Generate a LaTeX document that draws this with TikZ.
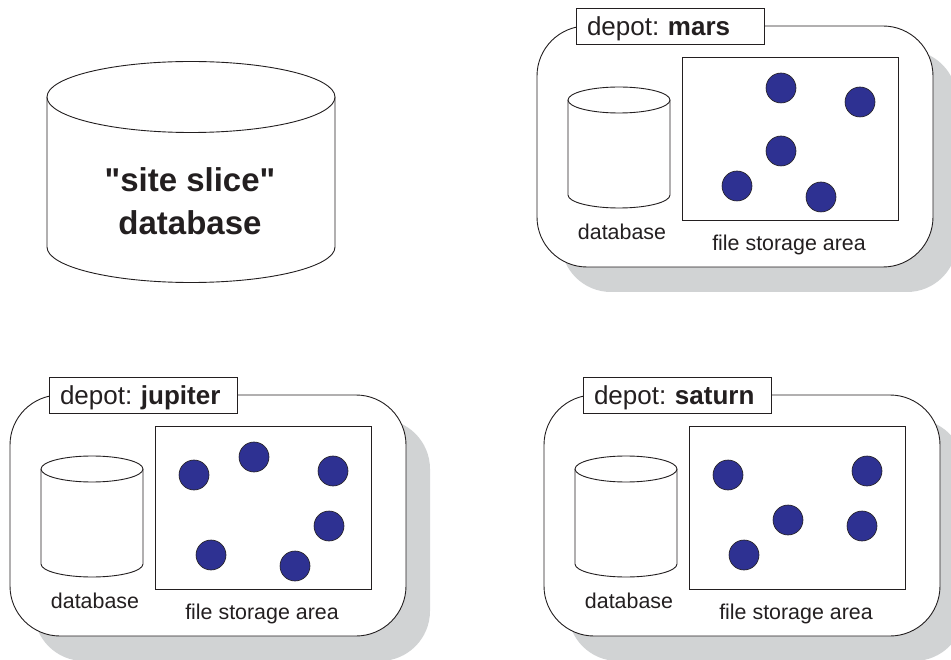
\documentclass[tikz,border=0pt]{standalone}
\usepackage{fontspec}
\setmainfont{Liberation Sans}
\newfontfamily\quotefont{Liberation Sans}
\usepackage{tikz}
\frenchspacing
\definecolor{inkgray}{HTML}{231F20}
\definecolor{shadowgray}{HTML}{D1D3D4}
\definecolor{filedot}{HTML}{2E3192}
\tikzset{
  outline/.style={draw=inkgray, line width=0.9pt},
  filedisc/.style={circle, draw=inkgray, line width=0.6pt, fill=filedot, minimum size=30pt, inner sep=0pt},
  depotlabel/.style={outline, fill=white, text width=166pt, align=left, text height=21.5pt, text depth=2.5pt, minimum height=36pt, inner xsep=11pt, inner ysep=0pt, font=\fontsize{26}{30}\selectfont, text=inkgray},
  smalltext/.style={font=\fontsize{21.4}{25}\selectfont, text=inkgray}
}
% one depot: shadow, panel, label, database, file area
\newcommand{\depotpanel}[2]{
  \begin{scope}[shift={(#1)}]
    \fill[shadowgray, rounded corners=50pt] (561,50) rectangle (957,292);
    \draw[outline, fill=white, rounded corners=50pt] (537,26) rectangle (933,267);
    \node[depotlabel] (label) at (670,26) {depot: \textbf{#2}};
    \draw[outline, fill=white] (568,100) -- (568,195)
      arc[start angle=180, end angle=0, x radius=51, y radius=13] -- (670,100);
    \draw[outline, fill=white] (619,100) ellipse [x radius=51, y radius=13];
    \node[smalltext] (dbtext) at (622,232) {database};
    \draw[outline, fill=white] (682,57.5) rectangle (898,220);
    \node[smalltext] (filetext) at (789,244.5) {file storage area};
  \end{scope}
}
\begin{document}
\begin{tikzpicture}[x=1pt, y=-1pt]
  \useasboundingbox (0,0) rectangle (951,660);

  % big database
  \draw[outline, fill=white] (47,97) -- (47,247)
    arc[start angle=180, end angle=0, x radius=144, y radius=35.5] -- (335,97);
  \draw[outline, fill=white] (191,97) ellipse [x radius=144, y radius=35.5];
  \node[align=center, font=\fontsize{33}{43}\selectfont\quotefont\bfseries, text=inkgray] (site) at (190,201) {"site slice"\\database};

  \depotpanel{0,0}{mars}
  \depotpanel{-527,369}{jupiter}
  \depotpanel{7,369}{saturn}

  % files in mars
  \foreach \px/\py in {781/88, 860/102, 781/151, 737/186, 821/197}
    \node[filedisc] at (\px,\py) {};
  % files in jupiter
  \foreach \px/\py in {194/475, 254/457, 333/471, 329/526, 211/555, 295/566}
    \node[filedisc] at (\px,\py) {};
  % files in saturn
  \foreach \px/\py in {728/475, 867/471, 788/520, 862/526, 744/555}
    \node[filedisc] at (\px,\py) {};
\end{tikzpicture}
\end{document}
